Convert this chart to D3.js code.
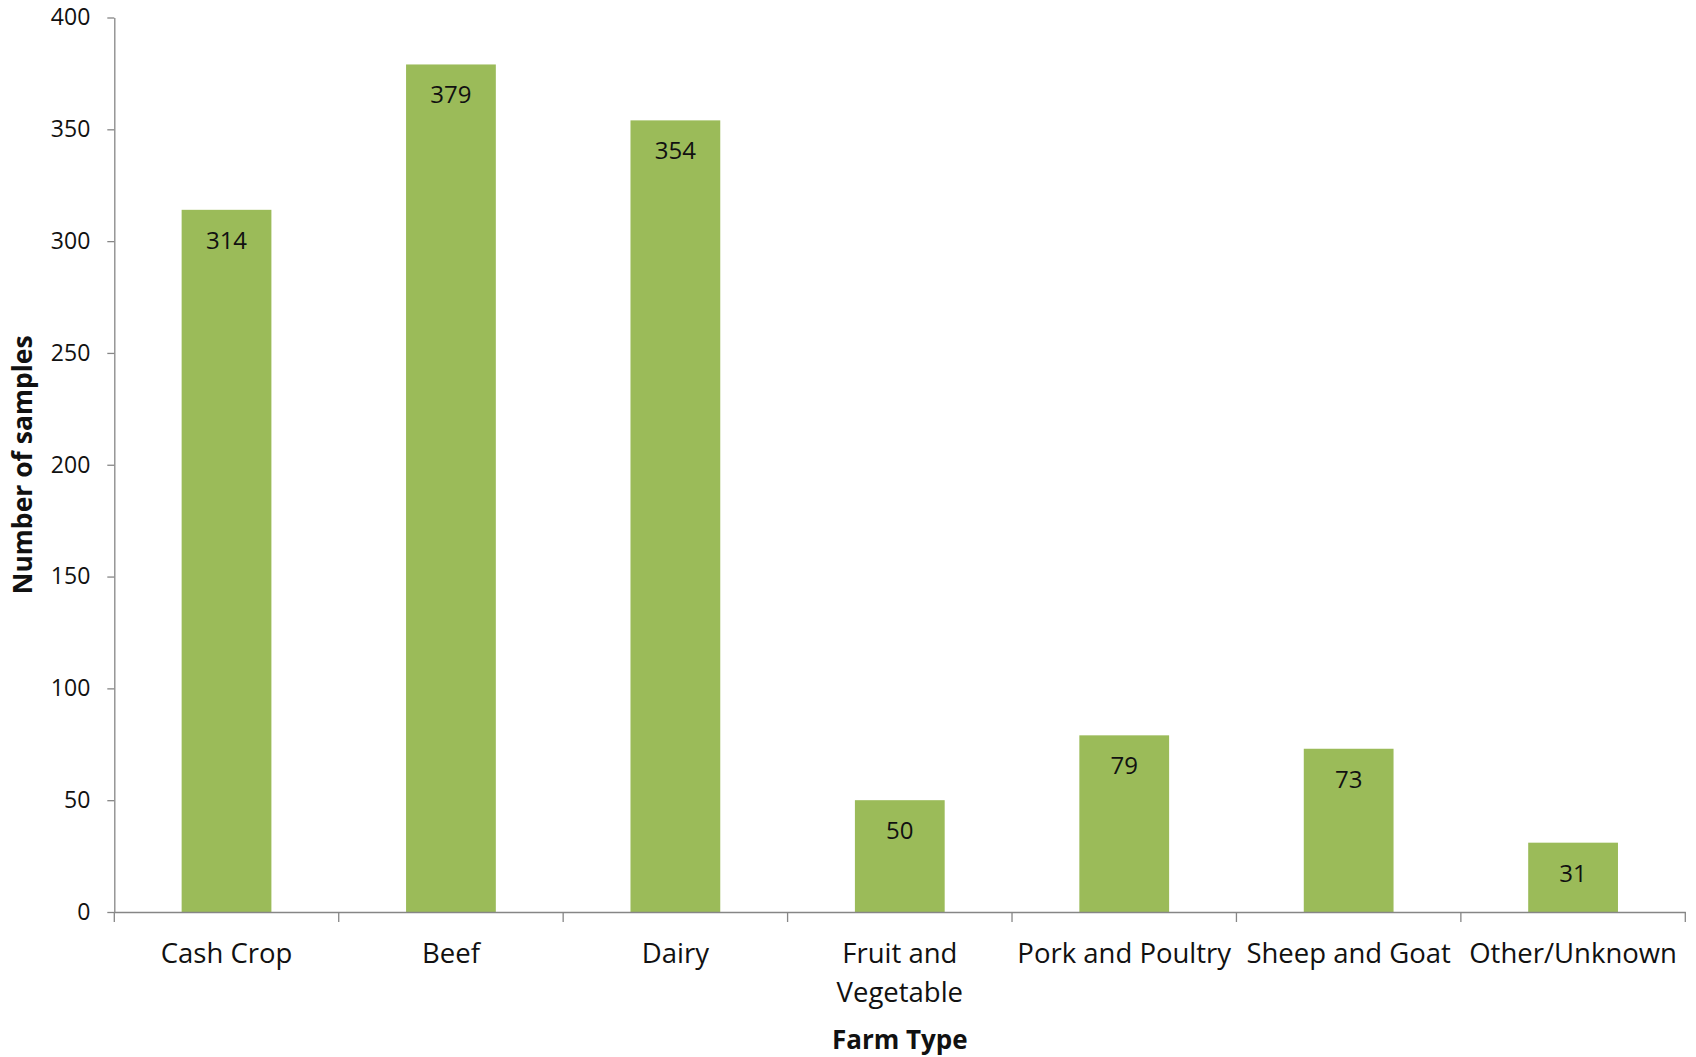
<!DOCTYPE html>
<html>
<head>
<meta charset="utf-8">
<script src="https://cdn.jsdelivr.net/npm/d3@7"></script>
<style>
  html, body { margin: 0; padding: 0; background: #ffffff; }
  svg { display: block; font-family: "Open Sans", "Liberation Sans", sans-serif; }
</style>
</head>
<body>
<svg id="chart" width="1696" height="1057"></svg>
<script>
// Samples collected per farm type
const categories = ["Cash Crop", "Beef", "Dairy", "Fruit and Vegetable", "Pork and Poultry", "Sheep and Goat", "Other/Unknown"];
const sampleCounts = [314, 379, 354, 50, 79, 73, 31];
const yTicks = [0, 50, 100, 150, 200, 250, 300, 350, 400];
const xTitle = "Farm Type";
const yTitle = "Number of samples";

const svg = d3.select("#chart");
const plotLeft = 114.3, plotRight = 1685.3, plotTop = 17.5, plotBottom = 912;
const axisColor = "#868686";
const barColor = "#9BBB59";

const x = d3.scaleBand()
  .domain(categories)
  .range([plotLeft, plotRight])
  .paddingInner(0.6)
  .paddingOuter(0.3);

const y = d3.scaleLinear()
  .domain([0, 400])
  .range([plotBottom, plotTop]);

// Bars
svg.append("g")
  .selectAll("rect")
  .data(categories)
  .join("rect")
  .attr("x", d => x(d))
  .attr("width", x.bandwidth())
  .attr("y", (d, i) => y(sampleCounts[i]))
  .attr("height", (d, i) => y(0) - y(sampleCounts[i]))
  .attr("fill", barColor);

// Value labels inside the top of each bar
svg.append("g")
  .selectAll("text")
  .data(categories)
  .join("text")
  .attr("x", d => x(d) + x.bandwidth() / 2)
  .attr("y", (d, i) => y(sampleCounts[i]) + 39)
  .attr("text-anchor", "middle")
  .attr("font-size", 24)
  .attr("fill", "#111")
  .text((d, i) => sampleCounts[i]);

// Y axis
const yAxis = svg.append("g")
  .attr("transform", `translate(${plotLeft},0)`)
  .call(d3.axisLeft(y).tickValues(yTicks).tickSize(7).tickSizeOuter(0).tickPadding(17));
yAxis.select(".domain").attr("stroke", axisColor).attr("stroke-width", 1.3);
yAxis.selectAll(".tick line").attr("stroke", axisColor).attr("stroke-width", 1.3);
yAxis.selectAll(".tick text")
  .attr("font-size", 23)
  .attr("font-family", "'Open Sans', sans-serif")
  .attr("fill", "#111");

// X axis: labels centred on bands, tick marks at band boundaries
const xAxis = svg.append("g")
  .attr("transform", `translate(0,${plotBottom})`)
  .call(d3.axisBottom(x).tickSize(0).tickSizeOuter(0).tickPadding(0));
xAxis.select(".domain").attr("stroke", axisColor).attr("stroke-width", 1.3);

const step = x.step();
const boundaries = categories.map(c => x(c) - step * 0.3).concat([plotRight]);
xAxis.selectAll("line.boundary")
  .data(boundaries)
  .join("line")
  .attr("class", "boundary")
  .attr("x1", d => d).attr("x2", d => d)
  .attr("y1", 0).attr("y2", 10)
  .attr("stroke", axisColor)
  .attr("stroke-width", 1.3);

xAxis.selectAll(".tick text")
  .attr("font-size", 27.5)
  .attr("font-family", "'Open Sans', sans-serif")
  .attr("fill", "#111")
  .attr("y", 51)
  .attr("dy", 0)
  .each(function () {
    // wrap labels wider than the category slot onto two lines
    const t = d3.select(this);
    const label = t.text();
    if (this.getComputedTextLength() > step + 8) {
      const words = label.split(" ");
      const half = Math.ceil(words.length / 2);
      const lines = [words.slice(0, half).join(" "), words.slice(half).join(" ")];
      t.text(null);
      lines.forEach((ln, i) => {
        t.append("tspan").attr("x", 0).attr("dy", i === 0 ? 0 : 39).text(ln);
      });
    }
  });

// Axis titles
svg.append("text")
  .attr("x", (plotLeft + plotRight) / 2)
  .attr("y", 1049)
  .attr("text-anchor", "middle")
  .attr("font-size", 26)
  .attr("font-weight", "bold")
  .attr("fill", "#111")
  .text(xTitle);

svg.append("text")
  .attr("transform", `translate(32,${(plotTop + plotBottom) / 2}) rotate(-90)`)
  .attr("text-anchor", "middle")
  .attr("font-size", 26.5)
  .attr("font-weight", "bold")
  .attr("fill", "#111")
  .text(yTitle);
</script>
</body>
</html>
